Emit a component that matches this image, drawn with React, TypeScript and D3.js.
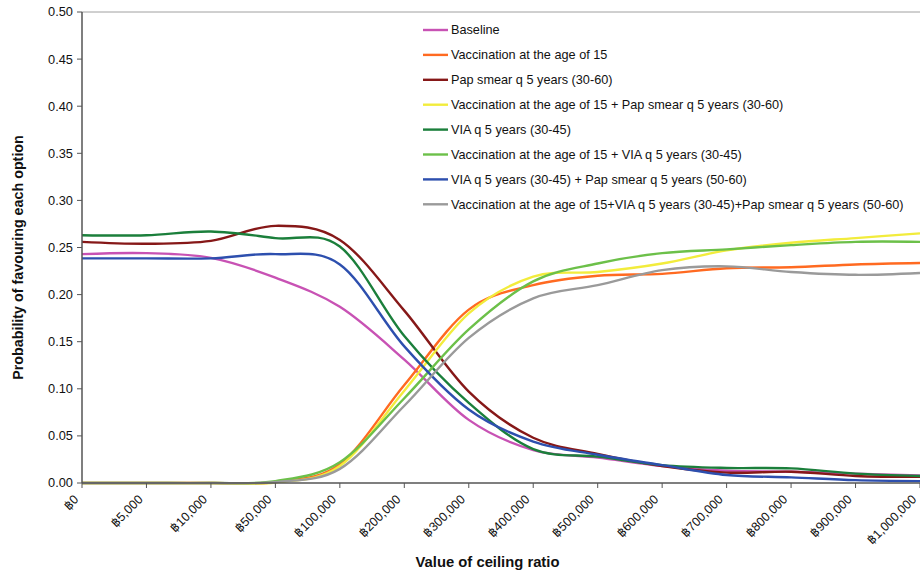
import React, { useEffect, useRef } from "react";
import * as d3 from "d3";

const categories = [
  "฿0", "฿5,000", "฿10,000", "฿50,000", "฿100,000", "฿200,000", "฿300,000",
  "฿400,000", "฿500,000", "฿600,000", "฿700,000", "฿800,000", "฿900,000", "฿1,000,000",
];

const yTicks = [0, 0.05, 0.1, 0.15, 0.2, 0.25, 0.3, 0.35, 0.4, 0.45, 0.5];

const baseline = [0.243, 0.244, 0.239, 0.218, 0.187, 0.131, 0.067, 0.035, 0.027, 0.018, 0.013, 0.012, 0.010, 0.008];
const vacc15 = [0, 0, 0, 0.001, 0.020, 0.104, 0.184, 0.210, 0.220, 0.222, 0.228, 0.229, 0.232, 0.2335];
const papSmear = [0.256, 0.254, 0.257, 0.273, 0.258, 0.183, 0.097, 0.048, 0.031, 0.018, 0.011, 0.012, 0.0075, 0.0065];
const vaccPap = [0, 0, 0, 0.0005, 0.018, 0.098, 0.180, 0.219, 0.224, 0.233, 0.247, 0.255, 0.260, 0.265];
const via = [0.263, 0.263, 0.267, 0.260, 0.251, 0.156, 0.085, 0.036, 0.028, 0.019, 0.016, 0.0155, 0.010, 0.0075];
const vaccVia = [0, 0, 0, 0.002, 0.022, 0.090, 0.163, 0.214, 0.233, 0.244, 0.248, 0.2525, 0.256, 0.256];
const viaPap = [0.2385, 0.2385, 0.2385, 0.243, 0.232, 0.145, 0.078, 0.044, 0.030, 0.019, 0.0085, 0.006, 0.003, 0.002];
const vaccViaPap = [0, 0, 0, 0.001, 0.015, 0.082, 0.154, 0.196, 0.210, 0.226, 0.230, 0.224, 0.221, 0.223];

const seriesNames = [
  "Baseline",
  "Vaccination at the age of 15",
  "Pap smear q 5 years (30-60)",
  "Vaccination at the age of 15 + Pap smear q 5 years (30-60)",
  "VIA q 5 years (30-45)",
  "Vaccination at the age of 15 + VIA q 5 years (30-45)",
  "VIA q 5 years (30-45) + Pap smear q 5 years (50-60)",
  "Vaccination at the age of 15+VIA q 5 years (30-45)+Pap smear q 5 years (50-60)",
];
const seriesValues = [baseline, vacc15, papSmear, vaccPap, via, vaccVia, viaPap, vaccViaPap];
const seriesColors = ["#C852B4", "#FF6A21", "#861818", "#F2EC3C", "#1B7F3B", "#6CC049", "#2D4FAE", "#9A9A9A"];

const W = 920;
const H = 573;
const M = { left: 82, right: 0, top: 12, bottom: 90 };

export default function App() {
  const ref = useRef<SVGSVGElement | null>(null);

  useEffect(() => {
    const svg = d3.select(ref.current);
    svg.selectAll("*").remove();

    const x = d3.scalePoint<string>().domain(categories).range([M.left, W - M.right]);
    const y = d3.scaleLinear().domain([0, 0.5]).range([H - M.bottom, M.top]);
    const font = "Liberation Sans, Arial, sans-serif";

    // plot area top border
    svg.append("line")
      .attr("x1", M.left).attr("x2", W).attr("y1", y(0.5)).attr("y2", y(0.5))
      .attr("stroke", "#a0a0a0").attr("stroke-width", 1);

    // series lines (smoothed)
    const line = d3.line<number>()
      .x((_, i) => x(categories[i]) as number)
      .y((d) => y(d))
      .curve(d3.curveCardinal.tension(0));

    seriesValues.forEach((vals, i) => {
      svg.append("path")
        .attr("d", line(vals) as string)
        .attr("fill", "none")
        .attr("stroke", seriesColors[i])
        .attr("stroke-width", 2.4)
        .attr("stroke-linejoin", "round");
    });

    // y axis
    const yAxis = svg.append("g");
    yAxis.append("line")
      .attr("x1", M.left).attr("x2", M.left).attr("y1", y(0.5)).attr("y2", y(0))
      .attr("stroke", "#555").attr("stroke-width", 1.5);
    yTicks.forEach((t) => {
      yAxis.append("line")
        .attr("x1", M.left - 5).attr("x2", M.left).attr("y1", y(t)).attr("y2", y(t))
        .attr("stroke", "#555").attr("stroke-width", 1);
      yAxis.append("text")
        .attr("x", M.left - 9).attr("y", y(t)).attr("dy", "0.35em")
        .attr("text-anchor", "end").attr("font-family", font).attr("font-size", 12.8)
        .attr("fill", "#111").text(t.toFixed(2));
    });

    // x axis
    const xAxis = svg.append("g");
    xAxis.append("line")
      .attr("x1", M.left).attr("x2", W).attr("y1", y(0)).attr("y2", y(0))
      .attr("stroke", "#555").attr("stroke-width", 1.5);
    categories.forEach((c) => {
      const px = x(c) as number;
      xAxis.append("line")
        .attr("x1", px).attr("x2", px).attr("y1", y(0)).attr("y2", y(0) + 5)
        .attr("stroke", "#555").attr("stroke-width", 1);
      xAxis.append("text")
        .attr("transform", `translate(${px - 6},${y(0) + 14}) rotate(-45)`)
        .attr("text-anchor", "end").attr("dy", "0.35em")
        .attr("font-family", font).attr("font-size", 12.5)
        .attr("fill", "#111").text(c);
    });

    // axis titles
    svg.append("text")
      .attr("x", 487.5).attr("y", 562).attr("dy", "0.35em")
      .attr("text-anchor", "middle").attr("font-family", font)
      .attr("font-size", 14.8).attr("font-weight", "bold").attr("fill", "#111")
      .text("Value of ceiling ratio");
    svg.append("text")
      .attr("transform", `translate(18,257.5) rotate(-90)`)
      .attr("dy", "0.35em")
      .attr("text-anchor", "middle").attr("font-family", font)
      .attr("font-size", 14.3).attr("font-weight", "bold").attr("fill", "#111")
      .text("Probability of favouring each option");

    // legend
    const legend = svg.append("g");
    seriesNames.forEach((name, i) => {
      const ly = 30 + i * 24.9;
      legend.append("line")
        .attr("x1", 423).attr("x2", 448).attr("y1", ly).attr("y2", ly)
        .attr("stroke", seriesColors[i]).attr("stroke-width", 2.4);
      legend.append("text")
        .attr("x", 451).attr("y", ly).attr("dy", "0.35em")
        .attr("font-family", font).attr("font-size", 12.7).attr("fill", "#111")
        .text(name);
    });
  }, []);

  return (
    <svg
      ref={ref}
      width={W}
      height={H}
      style={{ position: "absolute", left: 0, top: 0, background: "#fff" }}
    />
  );
}
